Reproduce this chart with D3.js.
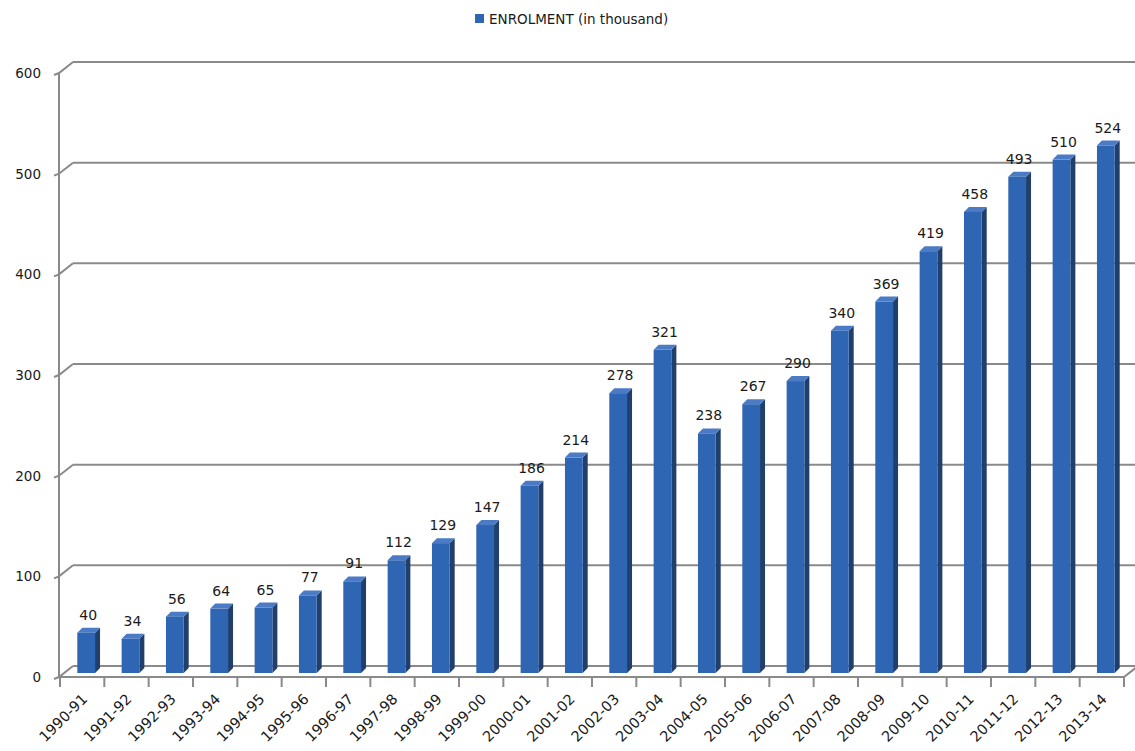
<!DOCTYPE html>
<html>
<head>
<meta charset="utf-8">
<script src="https://cdn.jsdelivr.net/npm/d3@7"></script>
<style>
  body { margin: 0; background: #fff; }
  text { font-family: "DejaVu Sans", Verdana, sans-serif; fill: #1a1a1a; }
</style>
</head>
<body>
<script>
// Enrolment (in thousand) by year
var years = ["1990-91", "1991-92", "1992-93", "1993-94", "1994-95", "1995-96",
             "1996-97", "1997-98", "1998-99", "1999-00", "2000-01", "2001-02",
             "2002-03", "2003-04", "2004-05", "2005-06", "2006-07", "2007-08",
             "2008-09", "2009-10", "2010-11", "2011-12", "2012-13", "2013-14"];
var enrolment = [40, 34, 56, 64, 65, 77, 91, 112, 129, 147, 186, 214,
                 278, 321, 238, 267, 290, 340, 369, 419, 458, 493, 510, 524];
var yTicks = [0, 100, 200, 300, 400, 500, 600];
var legendLabel = "ENROLMENT (in thousand)";

var width = 1135;
var height = 751;

// 3d offsets: back wall and the plane the bars stand on
var wallDx = 14, wallDy = -11;
var barDx = 4, barDy = -4;
var depthDx = 5, depthDy = -5;

var svg = d3.select("body")
  .append("svg")
  .attr("width", width)
  .attr("height", height);

// front axis scale
var yScale = d3.scaleLinear()
  .domain([0, 600])
  .range([677, 73]);

var xScale = d3.scaleBand()
  .domain(years)
  .range([60, 1124])
  .paddingInner(0.6)
  .paddingOuter(0.3);

var tickScale = d3.scaleLinear()
  .domain([0, years.length])
  .range([60, 1124]);

var grid = "#8a8a8a";

// back wall gridlines
svg.append("g")
  .selectAll("line")
  .data(yTicks)
  .enter()
  .append("line")
  .attr("x1", 59 + wallDx)
  .attr("x2", width)
  .attr("y1", function(d) { return yScale(d) + wallDy; })
  .attr("y2", function(d) { return yScale(d) + wallDy; })
  .attr("stroke", grid)
  .attr("stroke-width", 2);

// left wall: front edge plus slanted ticks
svg.append("line")
  .attr("x1", 59).attr("x2", 59)
  .attr("y1", yScale(600)).attr("y2", yScale(0))
  .attr("stroke", grid).attr("stroke-width", 2);

svg.append("g")
  .selectAll("path")
  .data(yTicks)
  .enter()
  .append("path")
  .attr("d", function(d) {
    var y = yScale(d);
    return "M54," + (y + 2) + "L59," + y + "L" + (59 + wallDx) + "," + (y + wallDy);
  })
  .attr("fill", "none")
  .attr("stroke", grid)
  .attr("stroke-width", 2);

// floor front edge + right edge
svg.append("path")
  .attr("d", "M59," + yScale(0) + "L1124," + yScale(0) + "L" + (1124 + wallDx) + "," + (yScale(0) + wallDy))
  .attr("fill", "none")
  .attr("stroke", grid)
  .attr("stroke-width", 2);

// x ticks
svg.append("g")
  .selectAll("line")
  .data(d3.range(years.length + 1))
  .enter()
  .append("line")
  .attr("x1", function(i) { return tickScale(i); })
  .attr("x2", function(i) { return tickScale(i); })
  .attr("y1", yScale(0))
  .attr("y2", yScale(0) + 10)
  .attr("stroke", grid)
  .attr("stroke-width", 2);

// y labels
svg.append("g")
  .selectAll("text")
  .data(yTicks)
  .enter()
  .append("text")
  .attr("x", 41)
  .attr("y", function(d) { return yScale(d) + 5; })
  .attr("text-anchor", "end")
  .attr("font-size", "13.5px")
  .text(function(d) { return d; });

// bars
var bw = xScale.bandwidth();
var bars = svg.append("g")
  .selectAll("g")
  .data(enrolment)
  .enter()
  .append("g")
  .attr("transform", function(d, i) {
    return "translate(" + (xScale(years[i]) + barDx) + ",0)";
  });

// side face
bars.append("path")
  .attr("d", function(d) {
    var top = yScale(d) + barDy, bot = yScale(0) + barDy;
    return "M" + bw + "," + top + "L" + (bw + depthDx) + "," + (top + depthDy) +
      "L" + (bw + depthDx) + "," + (bot + depthDy) + "L" + bw + "," + bot + "Z";
  })
  .attr("fill", "#213f6c");

// top face
bars.append("path")
  .attr("d", function(d) {
    var top = yScale(d) + barDy;
    return "M0," + top + "L" + depthDx + "," + (top + depthDy) +
      "L" + (bw + depthDx) + "," + (top + depthDy) + "L" + bw + "," + top + "Z";
  })
  .attr("fill", "#4a7bc4");

// front face
bars.append("rect")
  .attr("x", 0)
  .attr("width", bw)
  .attr("y", function(d) { return yScale(d) + barDy; })
  .attr("height", function(d) { return yScale(0) - yScale(d); })
  .attr("fill", "#2f66b3");

// value labels
bars.append("text")
  .attr("x", bw / 2 + 2)
  .attr("y", function(d) { return yScale(d) + barDy - 13; })
  .attr("text-anchor", "middle")
  .attr("font-size", "14px")
  .text(function(d) { return d; });

// category labels
svg.append("g")
  .selectAll("text")
  .data(years)
  .enter()
  .append("text")
  .attr("transform", function(d) {
    var x = xScale(d) + bw / 2 + 6;
    return "translate(" + x + "," + 700 + ") rotate(-45)";
  })
  .attr("text-anchor", "end")
  .attr("font-size", "14.5px")
  .text(function(d) { return d; });

// legend
svg.append("rect")
  .attr("x", 475).attr("y", 14)
  .attr("width", 9).attr("height", 9)
  .attr("fill", "#2f66b3");
svg.append("text")
  .attr("x", 489).attr("y", 24)
  .attr("font-size", "13.5px")
  .text(legendLabel);
</script>
</body>
</html>
